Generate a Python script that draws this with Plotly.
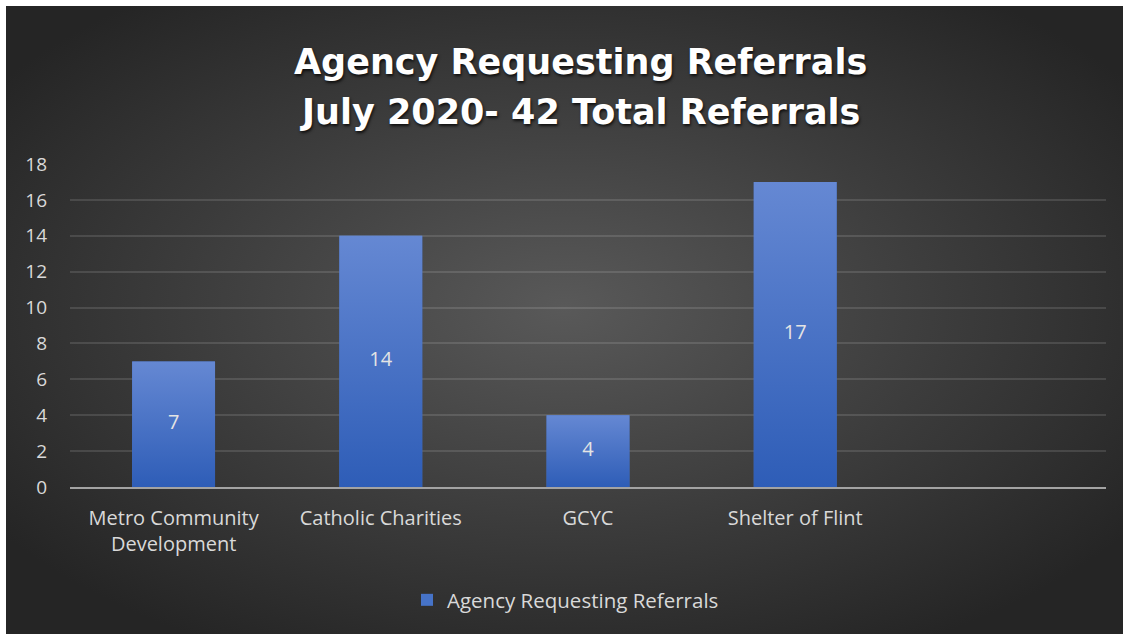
import base64
import plotly.graph_objects as go

# ---- data ----
categories = ["Metro Community<br>Development", "Catholic Charities", "GCYC", "Shelter of Flint", ""]
referrals = [7, 14, 4, 17, None]
series_name = "Agency Requesting Referrals"
title_lines = ["Agency Requesting Referrals", "July 2020- 42 Total Referrals"]
y_ticks = [0, 2, 4, 6, 8, 10, 12, 14, 16, 18]

W, H = 1125, 634
ML, MR, MT, MB = 70, 19, 164, 147
PW = W - ML - MR
PH = H - MT - MB
BAR_W = 0.4
BAR_TOP, BAR_BOTTOM, BAR_SOLID = "#6588d3", "#2e5db7", "#4673c8"
TXT = "#d9d9d9"

# radial gradient background of the chart frame
svg = (
    '<svg xmlns="http://www.w3.org/2000/svg" width="1117" height="628" viewBox="0 0 1117 628">'
    '<defs><radialGradient id="g" cx="50%" cy="48%" r="62%" fx="50%" fy="48%">'
    '<stop offset="0%" stop-color="#595959"/>'
    '<stop offset="55%" stop-color="#3c3c3c"/>'
    '<stop offset="100%" stop-color="#252525"/>'
    '</radialGradient></defs>'
    '<rect width="1117" height="628" fill="url(#g)"/></svg>'
)
bg_src = "data:image/svg+xml;base64," + base64.b64encode(svg.encode()).decode()

xpos = list(range(len(categories)))

fig = go.Figure()
# base bar trace (also provides legend entry)
fig.add_trace(go.Bar(
    x=xpos, y=referrals, width=BAR_W, name=series_name,
    marker=dict(color=BAR_SOLID, line=dict(width=0)),
    showlegend=True, hoverinfo="skip",
))
# vertical gradient overlay for each bar, derived from the same values
for xi, v in zip(xpos, referrals):
    if v is None:
        continue
    fig.add_trace(go.Scatter(
        x=[xi - BAR_W / 2, xi + BAR_W / 2, xi + BAR_W / 2, xi - BAR_W / 2, xi - BAR_W / 2],
        y=[0, 0, v, v, 0],
        mode="lines", line=dict(width=0), fill="toself",
        fillgradient=dict(type="vertical",
                          colorscale=[[0, BAR_BOTTOM], [1, BAR_TOP]]),
        showlegend=False, hoverinfo="skip",
    ))
# data labels
lab_x = [xi for xi, v in zip(xpos, referrals) if v is not None]
lab_v = [v for v in referrals if v is not None]
fig.add_trace(go.Scatter(
    x=lab_x, y=[v / 2 for v in lab_v], mode="text",
    text=[str(v) for v in lab_v],
    textfont=dict(family="Open Sans", size=20, color="#e4e4e4"),
    showlegend=False, hoverinfo="skip",
))

title_font = dict(family="DejaVu Sans", size=35, color="#ffffff", weight="bold",
                  shadow="1px 2px 3px rgba(0,0,0,0.75)")
annotations = []
for line, yc in zip(title_lines, [62, 112]):
    annotations.append(dict(
        text=line, showarrow=False, xref="paper", yref="paper",
        x=(580 - ML) / PW, xanchor="center",
        y=1 + (MT - yc) / PH, yanchor="middle", font=title_font,
    ))

fig.update_layout(
    width=W, height=H,
    margin=dict(l=ML, r=MR, t=MT, b=MB, autoexpand=False),
    paper_bgcolor="white",
    plot_bgcolor="rgba(0,0,0,0)",
    annotations=annotations,
    font=dict(family="Open Sans", size=18, color=TXT),
    xaxis=dict(
        range=[-0.5, len(categories) - 0.5],
        tickvals=xpos, ticktext=categories,
        showgrid=False, zeroline=False, showline=True, linecolor="#a3a3a3", linewidth=2,
        ticks="", tickfont=dict(size=20, color=TXT),
        ticklabelstandoff=12, fixedrange=True,
    ),
    yaxis=dict(
        range=[0, 18], tickvals=y_ticks, showgrid=True,
        gridcolor="rgba(255,255,255,0.12)", gridwidth=2,
        zeroline=False, showline=False, ticks="",
        tickfont=dict(size=19, color=TXT), ticklabelstandoff=22, fixedrange=True,
    ),
    legend=dict(
        orientation="h", x=(407 - ML) / PW, xanchor="left", xref="paper",
        y=(487 - 600) / PH, yanchor="middle",
        font=dict(size=20.5, color=TXT), bgcolor="rgba(0,0,0,0)",
        itemwidth=30,
    ),
    images=[dict(
        source=bg_src, xref="paper", yref="paper",
        x=(6 - ML) / PW, y=1 + (MT - 6) / PH,
        sizex=1117 / PW, sizey=628 / PH,
        xanchor="left", yanchor="top", sizing="stretch", layer="below",
    )],
)

fig.write_html("out.html", config={"displayModeBar": False},
               post_script="document.body.style.margin='0';")
